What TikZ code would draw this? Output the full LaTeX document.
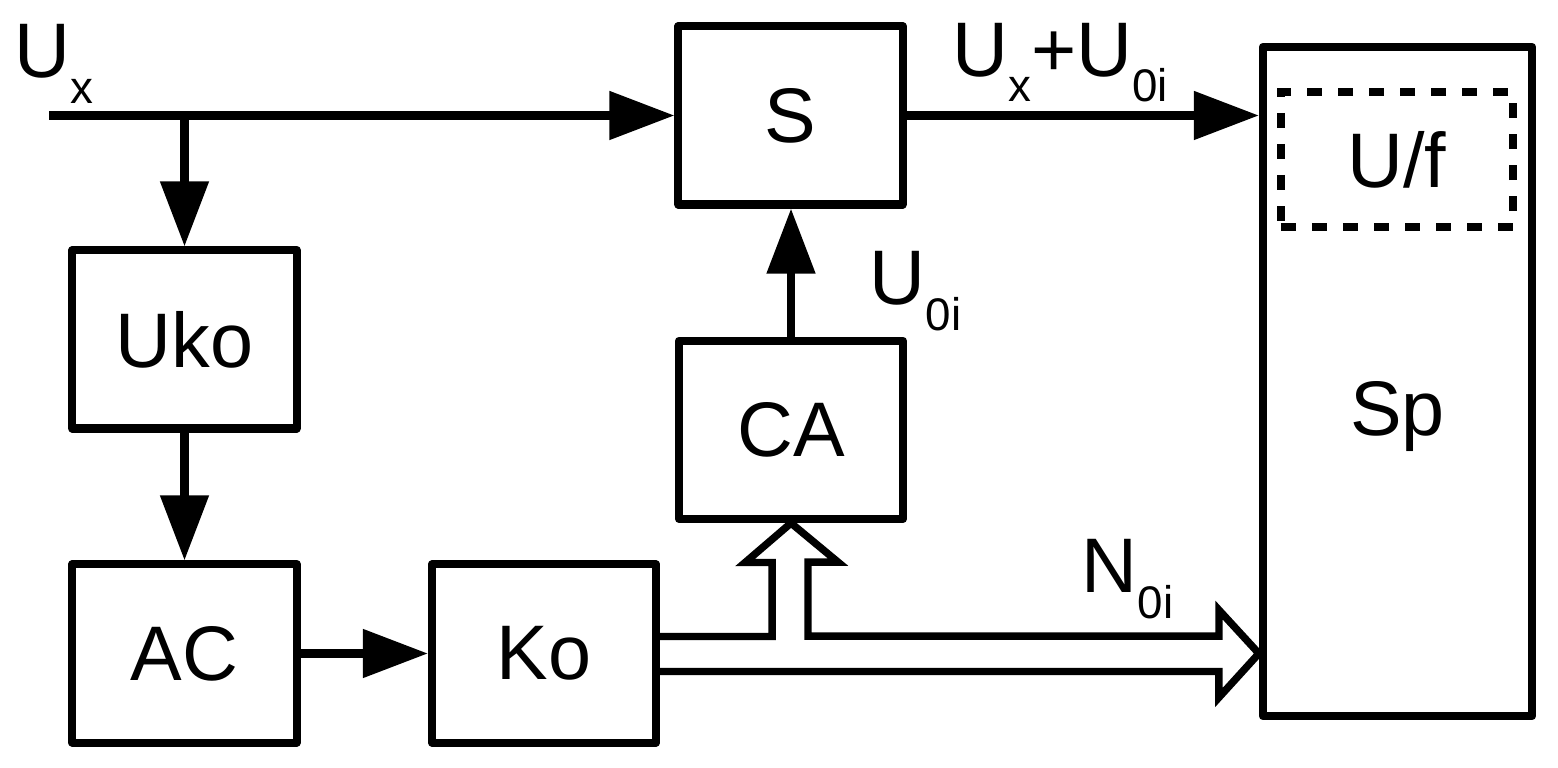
\documentclass[tikz,border=0pt]{standalone}
\usepackage{fontspec}
\setmainfont{Liberation Sans}
\usetikzlibrary{arrows.meta, positioning}

\newcommand{\sigsub}[2]{#1\raisebox{-0.25cm}{\fontsize{13}{13}\selectfont #2}}

\begin{document}
\begin{tikzpicture}[
    x=0.01cm, y=-0.01cm,
    block/.style={draw, line width=2.3pt, line join=round, minimum width=2.24cm, minimum height=1.78cm, inner sep=0pt, font=\fontsize{22}{26}\selectfont},
    arrow/.style={-{Triangle[length=0.65cm, width=0.47cm]}, line width=2.3pt},
    bus/.style={line width=2.1pt, line join=miter},
    sig/.style={font=\fontsize{22}{26}\selectfont, inner sep=0pt, anchor=base west}
]
\useasboundingbox (0,0) rectangle (1558,768);

% Blocks
\node[block] (S) at (790.5,115.5) {S};
\node[block] (CA) at (791,430) {CA};
\node[block] (Uko) at (184.5,339.5) {Uko};
\node[block] (AC) at (184.5,653.5) {AC};
\node[block] (Ko) at (544,653.5) {Ko};
\node[block, minimum width=2.69cm, minimum height=6.69cm] (sp) at (1397.5,381.5) {};
\node[font=\fontsize{22}{26}\selectfont] (sptext) at ([yshift=-0.35cm]sp.center) {Sp};
\node[block, dash pattern=on 0.15cm off 0.16cm, line join=miter, minimum width=2.32cm, minimum height=1.35cm] (uf) at (1397,159.5) {U/f};

% Input and branch
\coordinate (in) at (49,115.5);
\coordinate (split) at (Uko.north |- in);
\draw[arrow] (in) -- (S.west);
\draw[arrow] (split) -- (Uko.north);
\draw[arrow] (Uko.south) -- (AC.north);
\draw[arrow] (AC.east) -- (Ko.west);
\draw[arrow] (CA.north) -- (CA.north |- S.south);
\draw[arrow] (S.east) -- (S.east -| sp.west);

% Bus from Ko
\coordinate (bt) at ([yshift=0.17cm]Ko.east);
\coordinate (bb) at ([yshift=-0.18cm]Ko.east);
\coordinate (tip) at (Ko.east -| sp.west);
\draw[bus] (bt) -- ++(112,0) -- ++(0,-74) -- ++(-27,0) -- (CA.south) -- ++(47,39) -- ++(-30,0) -- ++(0,74)
    -- ++(411,0) -- ++(0,-26) -- (tip) -- ++(-40,44) -- ++(0,-26) -- (bb);

% Signal names
\node[sig] (ux) at (14,78) {\sigsub{U}{x}};
\node[sig] (uxu) at (952,77) {\sigsub{U}{x}+\sigsub{U}{0i}};
\node[sig] (u0) at (869,305) {\sigsub{U}{0i}};
\node[sig] (n0) at (1081,593) {\sigsub{N}{0i}};

\end{tikzpicture}
\end{document}
